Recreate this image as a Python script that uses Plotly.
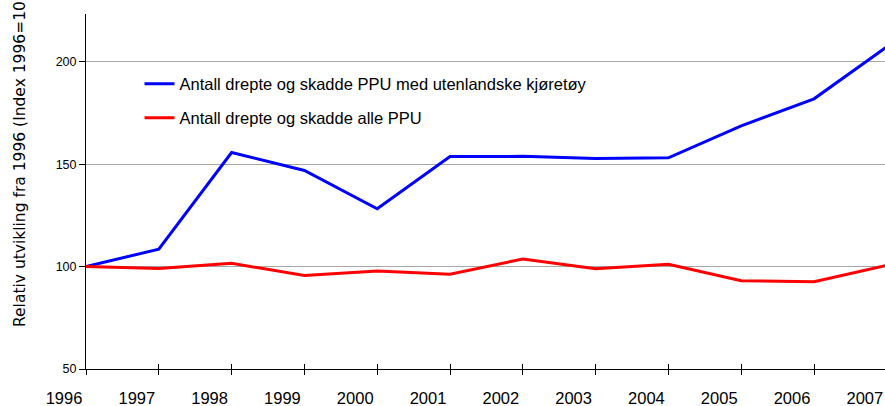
import plotly.graph_objects as go

years = ["1996", "1997", "1998", "1999", "2000", "2001", "2002", "2003", "2004", "2005", "2006", "2007"]
foreign = [100, 108.5, 155.7, 146.9, 128.2, 153.7, 153.8, 152.8, 153.1, 168.7, 181.9, 207.3]
all_ppu = [100, 99.0, 101.6, 95.6, 97.9, 96.3, 103.7, 98.9, 101.1, 93.1, 92.6, 100.6]
name_foreign = "Antall drepte og skadde PPU med utenlandske kjøretøy"
name_all = "Antall drepte og skadde alle PPU"
y_title = "Relativ utvikling fra 1996 (Index 1996=100)"
y_ticks = [50, 100, 150, 200]

idx = list(range(len(years)))
W, H = 885, 406
ml, mr, mt, mb = 86, 0, 14, 37
xrange_ = [0, 10.975]
yrange_ = [50, 223.3]
label_shift = 0.302  # year labels sit left of their tick marks

fig = go.Figure()
fig.add_trace(go.Scatter(x=idx, y=foreign, mode="lines", name=name_foreign,
                         line=dict(color="#0000FF", width=3), legendgroup="a"))
fig.add_trace(go.Scatter(x=idx, y=all_ppu, mode="lines", name=name_all,
                         line=dict(color="#FF0000", width=3), legendgroup="b"))
# invisible helper traces so the overlay axes (inner ticks, shifted labels) are drawn
for ax in ("x2", "x3"):
    fig.add_trace(go.Scatter(x=idx, y=all_ppu, xaxis=ax, mode="lines",
                             line=dict(color="rgba(0,0,0,0)", width=0),
                             showlegend=False, hoverinfo="skip"))

font = "Liberation Sans, Arial, sans-serif"
common = dict(range=xrange_, showline=False, showgrid=False, zeroline=False, automargin=False)
fig.update_layout(
    width=W, height=H,
    margin=dict(l=ml, r=mr, t=mt, b=mb, pad=0, autoexpand=False),
    paper_bgcolor="white", plot_bgcolor="white",
    font=dict(family=font, color="black"),
    showlegend=True,
    legend=dict(xref="container", yref="container", x=139.5 / W, y=1 - 66.5 / H,
                xanchor="left", yanchor="top",
                font=dict(size=16.5, family=font), bgcolor="rgba(0,0,0,0)",
                tracegroupgap=9.5, itemwidth=30),
    xaxis=dict(common, tickvals=idx, ticktext=[years[0]] + [""] * (len(years) - 1),
               ticks="outside", ticklen=5, tickcolor="black",
               showline=True, linecolor="black", linewidth=1,
               ticklabelshift=-22, ticklabelstandoff=9,
               tickfont=dict(size=16.5, family=font)),
    xaxis2=dict(common, overlaying="x", anchor="y", side="bottom", tickvals=idx,
                ticks="inside", ticklen=5, tickcolor="black", showticklabels=False),
    xaxis3=dict(common, overlaying="x", anchor="y", side="bottom",
                tickvals=[i - label_shift for i in idx[1:]], ticktext=years[1:],
                ticks="outside", ticklen=5, tickcolor="rgba(0,0,0,0)",
                ticklabelstandoff=9, tickfont=dict(size=16.5, family=font)),
    yaxis=dict(range=yrange_, tickvals=y_ticks, ticks="outside", ticklen=6, tickcolor="black",
               showline=True, linecolor="black", linewidth=1, showgrid=True,
               gridcolor="#A8A8A8", gridwidth=1, zeroline=False, automargin=False,
               tickfont=dict(size=12.5, family=font)),
)
fig.add_annotation(text=y_title, textangle=-90, xref="paper", yref="paper",
                   x=(20 - ml) / (W - ml - mr), y=(369 - 329) / (369 - 14),
                   xanchor="center", yanchor="bottom", showarrow=False,
                   font=dict(size=15.5, family="DejaVu Sans, sans-serif", color="black"))
fig.write_html("out.html", config={"displayModeBar": False},
               post_script="document.body.style.margin='0';")
